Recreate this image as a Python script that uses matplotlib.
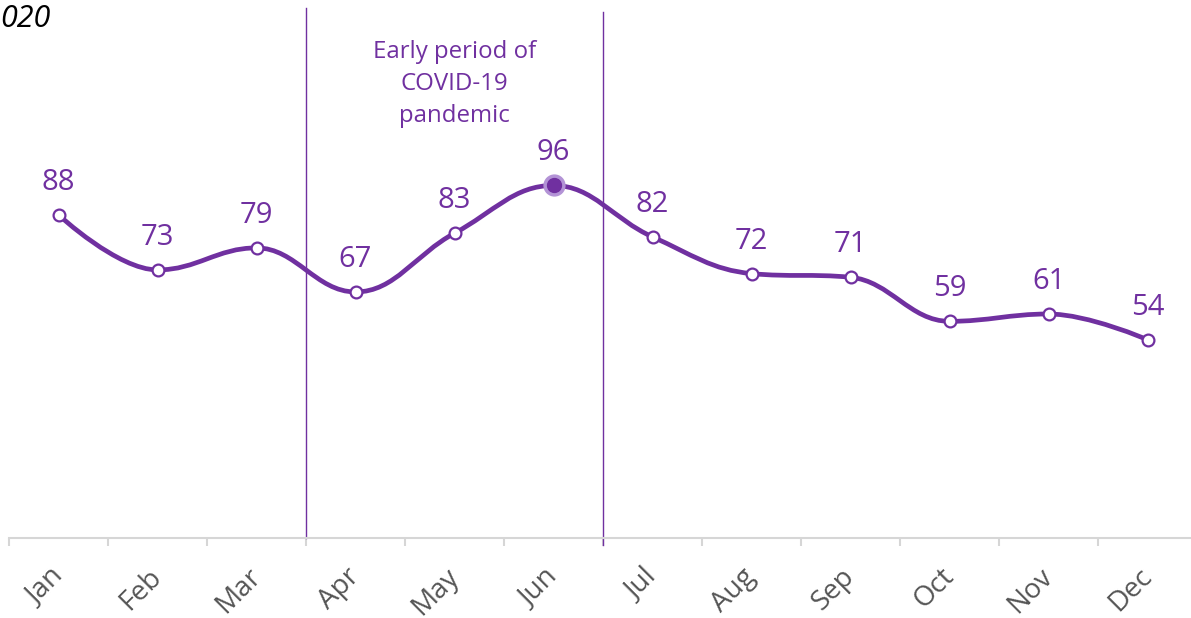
import numpy as np
import matplotlib.pyplot as plt
from matplotlib.path import Path
from matplotlib.patches import PathPatch

months = ['Jan', 'Feb', 'Mar', 'Apr', 'May', 'Jun',
          'Jul', 'Aug', 'Sep', 'Oct', 'Nov', 'Dec']
values = [88, 73, 79, 67, 83, 96, 82, 72, 71, 59, 61, 54]
highlight = 'Jun'
band_start, band_end = 'Apr', 'Jun'
band_label = 'Early period of\nCOVID-19\npandemic'
title = '020'

PURPLE = '#7030a0'
plt.rcParams['font.family'] = ['Open Sans', 'DejaVu Sans']


def spline_path(xs, ys, smoothing=1.5):
    # spline with the same control point rules as a Highcharts "spline" series
    denom = smoothing + 1
    n = len(xs)
    verts = [(xs[0], ys[0])]
    codes = [Path.MOVETO]
    right = [None] * n
    for i in range(1, n):
        x, y = xs[i], ys[i]
        lx, ly = xs[i - 1], ys[i - 1]
        left_c = (x, y)
        if i < n - 1:
            nx, ny = xs[i + 1], ys[i + 1]
            lcx = (smoothing * x + lx) / denom
            lcy = (smoothing * y + ly) / denom
            rcx = (smoothing * x + nx) / denom
            rcy = (smoothing * y + ny) / denom
            if rcx != lcx:
                corr = (rcy - lcy) * (rcx - x) / (rcx - lcx) + y - rcy
                lcy += corr
                rcy += corr
            if lcy > ly and lcy > y:
                lcy = max(ly, y)
                rcy = 2 * y - lcy
            elif lcy < ly and lcy < y:
                lcy = min(ly, y)
                rcy = 2 * y - lcy
            if rcy > ny and rcy > y:
                rcy = max(ny, y)
                lcy = 2 * y - rcy
            elif rcy < ny and rcy < y:
                rcy = min(ny, y)
                lcy = 2 * y - rcy
            left_c = (lcx, lcy)
            right[i] = (rcx, rcy)
        prev_c = right[i - 1] if right[i - 1] is not None else (lx, ly)
        verts += [prev_c, left_c, (x, y)]
        codes += [Path.CURVE4] * 3
    return Path(verts, codes)


x = np.arange(len(months))

fig = plt.figure(figsize=(11.91, 6.18), dpi=100)
ax = fig.add_axes([9 / 1191, 80 / 618, 1188 / 1191, 538 / 618])
ax.set_xlim(-0.5, len(months) - 0.5)
ax.set_ylim(0, 146.5)

ax.add_patch(PathPatch(spline_path(x, values), fill=False,
                       edgecolor=PURPLE, lw=3.4, capstyle='round', zorder=3))

for xi, v, m in zip(x, values, months):
    if m == highlight:
        ax.plot(xi, v, 'o', ms=15, color='#b393d6', zorder=4)
        ax.plot(xi, v, 'o', ms=10, color=PURPLE, zorder=5)
    else:
        ax.plot(xi, v, 'o', ms=8.5, mfc='white', mec=PURPLE, mew=1.6, zorder=5)
    ax.annotate(str(v), (xi, v), xytext=(0, 13), textcoords='offset points',
                ha='center', va='bottom', fontsize=21, color=PURPLE)

# band boundaries
b0 = months.index(band_start) - 0.5
b1 = months.index(band_end) + 0.5
ax.plot([b0, b0], [0, 144.3], color=PURPLE, lw=1, clip_on=False)
ax.plot([b1, b1], [-1.8, 143.2], color=PURPLE, lw=1, clip_on=False)
ax.text((b0 + b1) / 2, 123.7, band_label, ha='center', va='center',
        fontsize=17.3, color=PURPLE, linespacing=1.45)

fig.text(0.0, 1 - 19 / 618, title, ha='left', va='center', fontsize=22,
         style='italic', color='black')

# axes styling
for s in ['top', 'right', 'left']:
    ax.spines[s].set_visible(False)
ax.spines['bottom'].set_color('#d6d6d6')
ax.spines['bottom'].set_linewidth(1.5)
ax.set_yticks([])
ax.set_xticks(x)
ax.set_xticks(np.arange(-0.5, len(months)), minor=True)
ax.set_xticklabels(months, rotation=45, ha='right', va='center',
                   rotation_mode='anchor', fontsize=20, color='#555555')
ax.tick_params(axis='x', which='major', length=0, pad=25)
ax.tick_params(axis='x', which='minor', length=6, width=1.5, color='#d6d6d6')

fig.savefig('out.png', dpi=100)
